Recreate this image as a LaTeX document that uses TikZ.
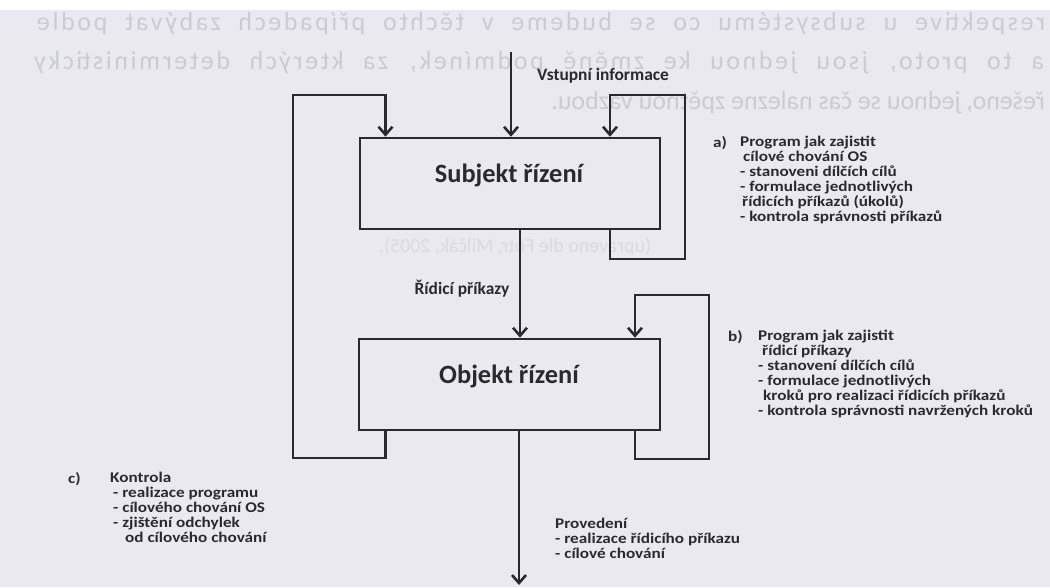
\documentclass[tikz,border=0pt]{standalone}
\usepackage{fontspec}
\setmainfont{Carlito}
\newfontfamily\ghostfont{Carlito}[LetterSpace=10]
\newfontfamily\notefont{Carlito}[FakeStretch=1.16]
\usetikzlibrary{arrows.meta,calc}
\definecolor{paper}{RGB}{233,233,239}
\definecolor{ink}{RGB}{42,42,46}
\definecolor{ghost}{RGB}{203,203,210}
\definecolor{ghostlight}{RGB}{218,218,225}

\begin{document}
\begin{tikzpicture}[x=1pt,y=-1pt,
  wire/.style={draw=ink,line width=2.6pt},
  flow/.style={wire,-{Straight Barb[length=8pt,width=14pt]}},
  block/.style={draw=ink,line width=2.6pt,minimum width=300pt,minimum height=91pt,inner sep=0pt},
  title/.style={text=ink,inner sep=0pt,font=\fontsize{26.4}{30}\selectfont\bfseries},
  tag/.style={text=ink,inner sep=0pt,font=\fontsize{17.4}{17}\selectfont\bfseries},
  note/.style={text=ink,inner sep=0pt,align=left,anchor=north west,font=\notefont\fontsize{14.8}{15}\selectfont\bfseries},
  ghosttext/.style={text=ghost,inner sep=0pt,xscale=-1,transform shape,font=\fontsize{26}{30}\ghostfont},
]
% page and scanned paper
\useasboundingbox (0,0) rectangle (1050,587);
\fill[white] (0,0) rectangle (1050,587);
\fill[paper] (0,10) rectangle (1050,587);

% text of the reverse side showing through the paper
\begin{scope}
  \clip (0,10) rectangle (1050,587);
  \node[ghosttext,anchor=base] (gh1) at (541,30)
    {\makebox[1008pt][s]{respektive u subsystému co se budeme v těchto případech zabývat podle}};
  \node[ghosttext,anchor=base] (gh2) at (539,69)
    {\makebox[1010pt][s]{a to proto, jsou jednou ke změně podmínek, za kterých deterministicky}};
  \node[ghosttext,anchor=base west,font=\fontsize{26}{30}\selectfont] (gh3) at (1045,109)
    {řešeno, jednou se čas nalezne zpětnou vazbou.};
  \node[ghosttext,text=ghostlight,anchor=base,font=\fontsize{20}{24}\selectfont] (gh4) at (515,252)
    {(upraveno dle Fotr, Milčák, 2005).};
\end{scope}

% the two blocks
\node[block] (subj) at (510,183.5) {};
\node[title] (subjt) at (509,175) {Subjekt řízení};
\node[block,minimum width=301pt] (obj) at (509.5,384.5) {};
\node[title] (objt) at (509,376) {Objekt řízení};

% input information
\coordinate (inTop) at (511,52);
\draw[flow] (inTop) -- (inTop |- subj.north);
\node[tag,anchor=west] (inlab) at (537,76) {Vstupní informace};

% control commands
\coordinate (cmdX) at (520,0);
\draw[flow] (subj.south -| cmdX) -- (cmdX |- obj.north);
\node[tag] (cmdlab) at (462,289) {Řídicí příkazy};

% execution output
\coordinate (outEnd) at (519,585);
\draw[flow] (obj.south -| outEnd) -- (outEnd);

% feedback loop of the control subject
\coordinate (sfA) at (610,259);
\coordinate (sfB) at (685,259);
\coordinate (sfC) at (685,95);
\coordinate (sfD) at (610,95);
\draw[flow] (subj.south -| sfA) -- (sfA) -- (sfB) -- (sfC) -- (sfD) -- (sfD |- subj.north);

% feedback loop of the controlled object
\coordinate (ofA) at (635,459);
\coordinate (ofB) at (709,459);
\coordinate (ofC) at (709,295);
\coordinate (ofD) at (635,295);
\draw[flow] (obj.south -| ofA) -- (ofA) -- (ofB) -- (ofC) -- (ofD) -- (ofD |- obj.north);

% control loop from the object back to the subject
\coordinate (lfA) at (385.5,458);
\coordinate (lfB) at (293,458);
\coordinate (lfC) at (293,95);
\coordinate (lfD) at (385.5,95);
\draw[flow] (obj.south -| lfA) -- (lfA) -- (lfB) -- (lfC) -- (lfD) -- (lfD |- subj.north);

% explanatory notes
\node[note] (na) at (713,136) {a)};
\node[note] (nat) at (740,136) {Program jak zajistit\\
  \hspace*{3pt}cílové chování OS\\
  - stanoveni dílčích cílů\\
  - formulace jednotlivých\\
  \hspace*{2pt}řídicích příkazů (úkolů)\\
  - kontrola správnosti příkazů};

\node[note] (nb) at (728,330) {b)};
\node[note] (nbt) at (758,330) {Program jak zajistit\\
  \hspace*{4pt}řídicí příkazy\\
  - stanovení dílčích cílů\\
  - formulace jednotlivých\\
  \hspace*{5pt}kroků pro realizaci řídicích příkazů\\
  - kontrola správnosti navržených kroků};

\node[note] (nc) at (68,472) {c)};
\node[note] (nct) at (110,472) {Kontrola\\
  \hspace*{3pt}- realizace programu\\
  \hspace*{3pt}- cílového chování OS\\
  \hspace*{3pt}- zjištění odchylek\\
  \hspace*{15pt}od cílového chování};

\node[note] (nd) at (555,518) {Provedení\\
  - realizace řídicího příkazu\\
  - cílové chování};
\end{tikzpicture}
\end{document}
